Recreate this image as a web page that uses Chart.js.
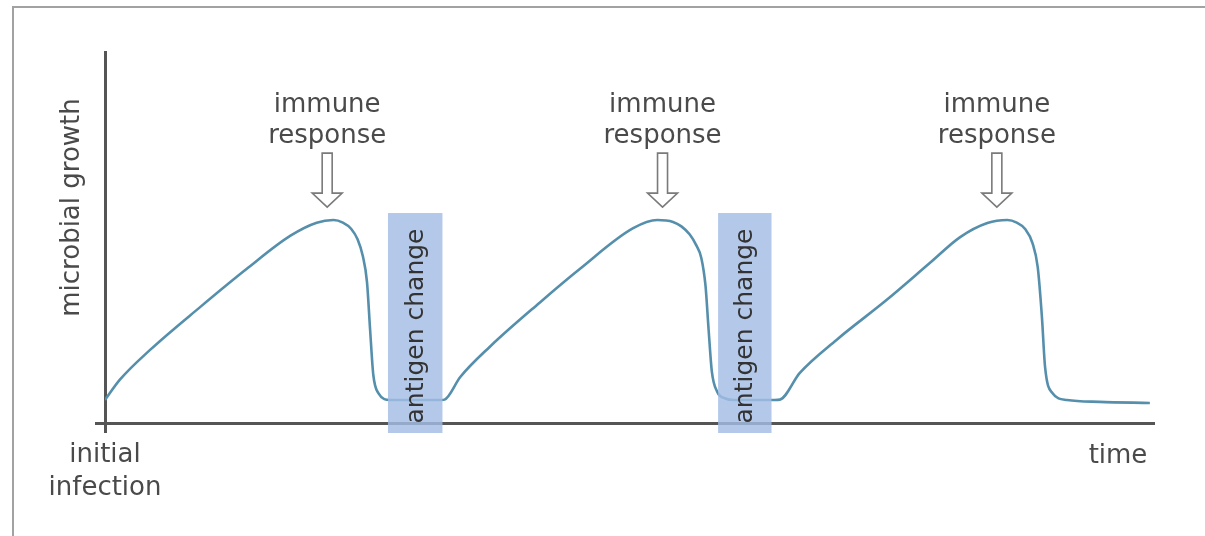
<!DOCTYPE html>
<html>
<head>
<meta charset="utf-8">
<script src="https://cdn.jsdelivr.net/npm/chart.js@4"></script>
<style>
	html, body { margin: 0; padding: 0; background: #fff; }
	#wrap { position: relative; width: 1205px; height: 536px; overflow: hidden; }
	#frame { position: absolute; left: 12px; top: 6px; right: -4px; bottom: -4px; border-left: 2px solid #a2a2a2; border-top: 2px solid #a2a2a2; }
	#chart { position: absolute; left: 0; top: 0; }
</style>
</head>
<body>
<div id="wrap">
	<div id="frame"></div>
	<canvas id="chart" width="1205" height="536"></canvas>
</div>
<script>
// time (arbitrary units, 0-100) and microbial growth (0-100)
const timeValues = [
	0, 1.4, 4.3, 9.1, 13.5, 17.7, 20.2, 21.8, 22.7, 23.5, 24.1, 24.6, 25.0, 25.3, 25.6, 26.1, 27.2, 32.1,
	32.4, 33.9, 36.7, 41.5, 45.3, 50.4, 52.7, 54.2, 55.0, 55.8, 56.4, 56.9, 57.3, 57.6, 57.9, 58.4, 59.2, 60.0, 63.9,
	64.4, 66.3, 69.8, 74.6, 78.7, 81.6, 84.2, 86.1, 87.0, 87.8, 88.5, 89.0, 89.4, 89.7, 90.4, 91.8, 94.9, 99.7
];
const growthValues = [
	6.2, 11.6, 19.7, 31.3, 41.5, 50.5, 54.0, 54.7, 54.0, 52.3, 49.5, 45.0, 38.0, 25.0, 13.0, 8.0, 6.2, 6.2,
	6.3, 12.4, 20.5, 32.5, 41.5, 52.5, 54.7, 54.2, 53.0, 50.8, 48.0, 44.5, 37.0, 25.0, 14.0, 8.5, 6.6, 6.2, 6.2,
	6.3, 13.5, 22.4, 33.2, 43.1, 50.1, 53.9, 54.7, 54.0, 52.3, 48.5, 42.0, 28.6, 15.1, 8.1, 6.2, 5.7, 5.4
];
const peakTimes = [21.2, 53.2, 85.1];
const antigenWindows = [[27.0, 32.2], [58.5, 63.6]];
const antigenTop = 56.6;

const textColor = '#4a4a4a';
const font = '"DejaVu Sans", Verdana, sans-serif';

const annotations = {
	id: 'annotations',
	afterDatasetsDraw(chart) {
		const ctx = chart.ctx;
		const x = chart.scales.x;
		const y = chart.scales.y;
		ctx.save();
		for (const w of antigenWindows) {
			const left = x.getPixelForValue(w[0]);
			const right = x.getPixelForValue(w[1]);
			const top = y.getPixelForValue(antigenTop);
			const bottom = chart.chartArea.bottom + 10;
			ctx.fillStyle = 'rgba(164, 189, 229, 0.82)';
			ctx.fillRect(left, top, right - left, bottom - top);
			ctx.save();
			ctx.translate((left + right) / 2 + 1, (top + bottom) / 2 + 3);
			ctx.rotate(-Math.PI / 2);
			ctx.fillStyle = '#333';
			ctx.font = '25px ' + font;
			ctx.textAlign = 'center';
			ctx.textBaseline = 'middle';
			ctx.fillText('antigen change', 0, 0);
			ctx.restore();
		}
		ctx.restore();
	},
	afterDraw(chart) {
		const ctx = chart.ctx;
		const x = chart.scales.x;
		const y = chart.scales.y;
		const area = chart.chartArea;
		ctx.save();
		ctx.fillStyle = textColor;
		ctx.font = '26px ' + font;
		ctx.textAlign = 'center';
		ctx.textBaseline = 'alphabetic';

		for (const t of peakTimes) {
			const cx = x.getPixelForValue(t);
			const tip = y.getPixelForValue(58.2);
			ctx.fillStyle = textColor;
			ctx.fillText('immune', cx, tip - 95);
			ctx.fillText('response', cx, tip - 64);
			// hollow arrow
			ctx.beginPath();
			ctx.moveTo(cx - 5, tip - 54);
			ctx.lineTo(cx + 5, tip - 54);
			ctx.lineTo(cx + 5, tip - 14);
			ctx.lineTo(cx + 15, tip - 14);
			ctx.lineTo(cx, tip);
			ctx.lineTo(cx - 15, tip - 14);
			ctx.lineTo(cx - 5, tip - 14);
			ctx.closePath();
			ctx.fillStyle = '#fff';
			ctx.fill();
			ctx.strokeStyle = '#7a7a7a';
			ctx.lineWidth = 1.6;
			ctx.stroke();
		}

		ctx.fillStyle = textColor;
		ctx.fillText('initial', area.left, 462);
		ctx.fillText('infection', area.left, 495);
		ctx.fillText('time', 1118, 463);

		ctx.save();
		ctx.translate(72, (area.top + area.bottom) / 2 - 30);
		ctx.rotate(-Math.PI / 2);
		ctx.textBaseline = 'middle';
		ctx.fillText('microbial growth', 0, 0);
		ctx.restore();
		ctx.restore();
	}
};

const onlyOrigin = scale => { scale.ticks = [{ value: 0 }]; };

new Chart(document.getElementById('chart'), {
	type: 'line',
	data: {
		datasets: [{
			data: timeValues.map((t, i) => ({ x: t, y: growthValues[i] })),
			borderColor: '#558fac',
			borderWidth: 2.6,
			pointRadius: 0,
			cubicInterpolationMode: 'monotone',
			fill: false
		}]
	},
	options: {
		responsive: false,
		animation: false,
		layout: {
			padding: { left: 95, right: 52, top: 52, bottom: 103 }
		},
		plugins: {
			legend: { display: false },
			tooltip: { enabled: false }
		},
		scales: {
			x: {
				type: 'linear',
				min: 0,
				max: 100,
				z: 1,
				afterBuildTicks: onlyOrigin,
				afterFit: s => { s.height = 10; },
				ticks: { display: false },
				grid: { drawOnChartArea: false, drawTicks: true, tickLength: 10, color: '#555', lineWidth: 3 },
				border: { display: true, color: '#555', width: 3 }
			},
			y: {
				type: 'linear',
				min: 0,
				max: 100,
				z: 1,
				afterBuildTicks: onlyOrigin,
				afterFit: s => { s.width = 10; },
				ticks: { display: false },
				grid: { drawOnChartArea: false, drawTicks: true, tickLength: 10, color: '#555', lineWidth: 3 },
				border: { display: true, color: '#555', width: 3 }
			}
		}
	},
	plugins: [annotations]
});
</script>
</body>
</html>
